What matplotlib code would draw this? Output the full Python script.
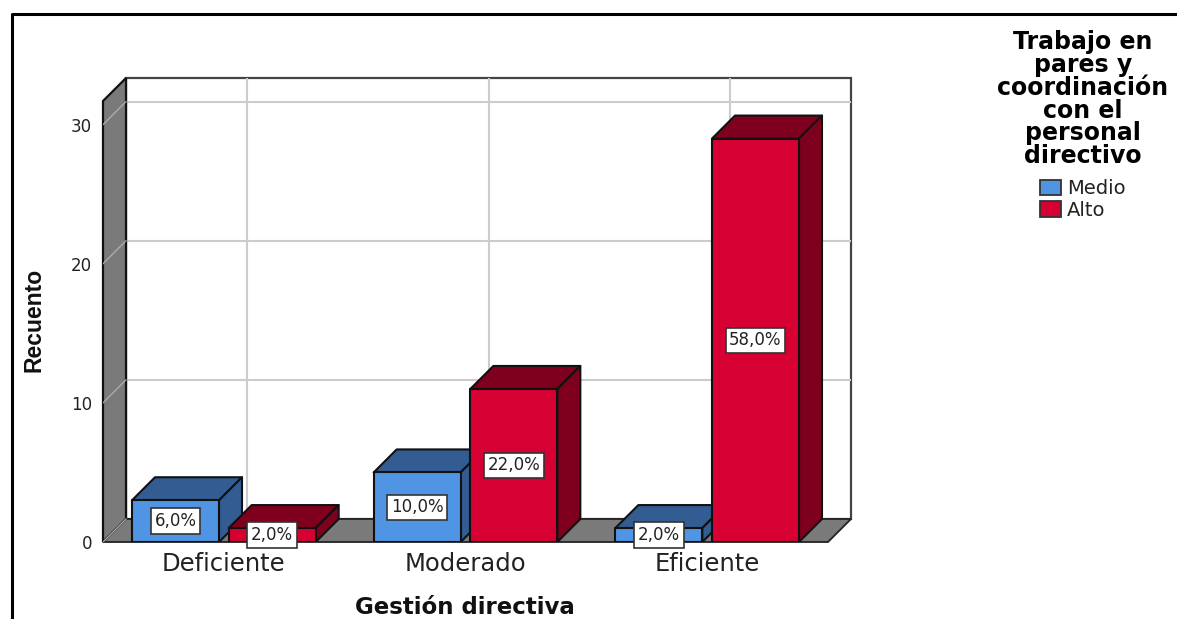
import matplotlib
matplotlib.use("Agg")
import matplotlib.pyplot as plt
from matplotlib.patches import Polygon, Patch, Rectangle

categories = ["Deficiente", "Moderado", "Eficiente"]
medio = [3, 5, 1]
alto = [1, 11, 29]
medio_pct = ["6,0%", "10,0%", "2,0%"]
alto_pct = ["2,0%", "22,0%", "58,0%"]
y_ticks = [0, 10, 20, 30]

W, H = 1177, 619
BLUE, BLUE_DK = "#5094E4", "#325C92"
RED, RED_DK = "#D60032", "#7E001E"
GRAY = "#7A7A7A"
GRID = "#CCCCCC"
DX = 23 / 241.5   # depth of the box, x units
DY = 23 / 13.9    # depth of the box, counts
YFRONT = 31.7


def bar3d(ax, xc, val, width, face, dark, z):
    x0, x1 = xc - width / 2, xc + width / 2
    kw = dict(edgecolor="#111111", lw=1.5, joinstyle="round", zorder=z)
    ax.add_patch(Polygon([(x0, val), (x1, val), (x1 + DX, val + DY), (x0 + DX, val + DY)], facecolor=dark, **kw))
    ax.add_patch(Polygon([(x1, 0), (x1 + DX, DY), (x1 + DX, val + DY), (x1, val)], facecolor=dark, **kw))
    ax.add_patch(Rectangle((x0, 0), width, val, facecolor=face, **kw))


def pct_label(ax, x, y, s):
    ax.text(x, y, s, ha="center", va="center", fontsize=12, color="#222222", zorder=50,
            bbox=dict(boxstyle="square,pad=0.22", fc="white", ec="#333333", lw=1.2))


fig = plt.figure(figsize=(W / 100, H / 100), dpi=100)
plt.rcParams["font.family"] = "DejaVu Sans"

# outer frame, runs off the bottom and right side
fig.add_artist(plt.Line2D([11.5 / W, 11.5 / W, 1], [0, 1 - 14 / H, 1 - 14 / H], color="black", lw=2.2))

ax = fig.add_axes([103 / W, 1 - 542 / H, (851 - 103) / W, (542 - 78) / H])
ax.set_xlim(-0.5, 2.5 + DX)
ax.set_ylim(0, YFRONT + DY)
for s in ax.spines.values():
    s.set_visible(False)
ax.patch.set_alpha(0)

ax.set_xticks(range(3), categories, fontsize=17.5, color="#222222")
ax.set_yticks(y_ticks, [str(v) for v in y_ticks], fontsize=12, color="#222222")
ax.tick_params(length=0)
ax.tick_params(axis="y", pad=8)
ax.tick_params(axis="x", pad=7)

# back wall and gridlines
ax.add_patch(Rectangle((-0.5 + DX, DY), 3, YFRONT, fc="white", ec="#444444", lw=1.6, zorder=1, clip_on=False))
for v in y_ticks[1:]:
    ax.plot([-0.5 + DX, 2.5 + DX], [v + DY, v + DY], color=GRID, lw=1.5, zorder=2)
for i in range(3):
    ax.plot([i + DX, i + DX], [DY, YFRONT + DY], color=GRID, lw=1.5, zorder=2)

# side wall and floor
ax.add_patch(Polygon([(-0.5, 0), (-0.5 + DX, DY), (-0.5 + DX, YFRONT + DY), (-0.5, YFRONT)],
                     fc=GRAY, ec="#111111", lw=1.6, zorder=3, clip_on=False))
ax.add_patch(Polygon([(-0.5, 0), (-0.5 + DX, DY), (2.5 + DX, DY), (2.5, 0)],
                     fc=GRAY, ec="#222222", lw=1.3, zorder=3, clip_on=False))
for v in y_ticks:
    ax.plot([-0.5, -0.5 + DX], [v, v + DY], color="#B0B0B0", lw=0.9, zorder=4)

for i in range(3):
    bar3d(ax, i - 0.2, medio[i], 0.36, BLUE, BLUE_DK, 10 + 2 * i)
    bar3d(ax, i + 0.2, alto[i], 0.36, RED, RED_DK, 11 + 2 * i)
    pct_label(ax, i - 0.2, medio[i] / 2, medio_pct[i])
    pct_label(ax, i + 0.2, alto[i] / 2, alto_pct[i])

ax.set_xlabel("Gestión directiva", fontsize=16.5, fontweight="bold", color="#111111")
ax.xaxis.set_label_coords((465 - 103) / (851 - 103), -(607 - 542) / (542 - 78))
ax.xaxis.label.set_va("center")
ax.set_ylabel("Recuento", fontsize=16.5, fontweight="bold", family="Liberation Sans", color="#111111")
ax.yaxis.set_label_coords((34 - 103) / (851 - 103), (542 - 320) / (542 - 78))
ax.yaxis.label.set_va("center")

handles = [Patch(fc=BLUE, ec="#333333", lw=1.3, label="Medio"), Patch(fc=RED, ec="#333333", lw=1.3, label="Alto")]
leg = fig.legend(handles=handles, loc="upper center", bbox_to_anchor=(1083 / W, 1 - 30 / H), frameon=False,
                 title="Trabajo en\npares y\ncoordinación\ncon el\npersonal\ndirectivo",
                 title_fontproperties=dict(size=17, weight="bold"), fontsize=14,
                 handlelength=1.08, handleheight=0.82, handletextpad=0.3, labelspacing=0.12, borderpad=0, borderaxespad=0)
leg.get_title().set_multialignment("center")
leg.get_title().set_linespacing(0.94)
leg._legend_box.sep = 8
for t in leg.get_texts():
    t.set_color("#222222")

fig.savefig("out.png", dpi=100)
